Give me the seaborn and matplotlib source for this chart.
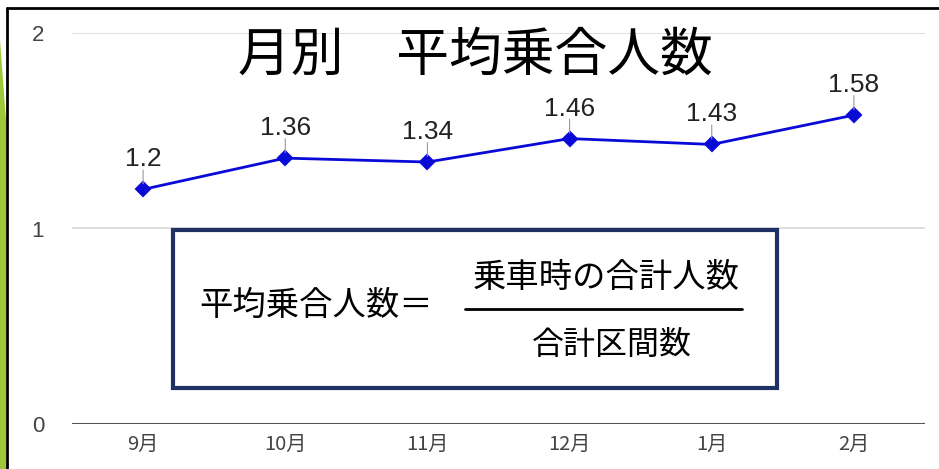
import matplotlib
matplotlib.use("Agg")
import matplotlib.pyplot as plt
from matplotlib.patches import Polygon, Rectangle
from matplotlib.lines import Line2D
import seaborn as sns
import pandas as pd

months = ["9月", "10月", "11月", "12月", "1月", "2月"]
values = [1.20, 1.36, 1.34, 1.46, 1.43, 1.58]
value_labels = ["1.2", "1.36", "1.34", "1.46", "1.43", "1.58"]
y_ticks = [0, 1, 2]
title = "月別　平均乗合人数"
formula_left = "平均乗合人数＝"
formula_num = "乗車時の合計人数"
formula_den = "合計区間数"

sns.set_style("white")
plt.rcParams['font.family'] = ['Noto Sans CJK JP', 'DejaVu Sans']

df = pd.DataFrame({"month": months, "value": values})

fig = plt.figure(figsize=(9.39, 4.69), dpi=100)
ax = fig.add_axes([72/939, 1-424/469, (925-72)/939, (424-33)/469])

sns.pointplot(data=df, x="month", y="value", order=months, color="#0a0ad8",
              markers="D", linestyles="-", ax=ax, markersize=7, linewidth=2)

ax.set_xlim(-0.5, 5.5)
ax.set_ylim(0, 2)
ax.set_yticks(y_ticks)
ax.set_yticklabels([str(t) for t in y_ticks], fontsize=16, color="#444444",
                   family=['Liberation Sans', 'DejaVu Sans'])
ax.tick_params(axis='y', length=0, pad=20)
ax.tick_params(axis='x', length=0, pad=7, labelsize=14.5, labelcolor="#444444")
ax.set_xlabel("")
ax.set_ylabel("")
for s in ax.spines.values():
    s.set_visible(False)
for t in [1, 2]:
    ax.axhline(t, color="#d9d9d9", lw=1.2, zorder=0)
ax.axhline(0, color="#555555", lw=1.5, zorder=1)

for i, (v, lab) in enumerate(zip(values, value_labels)):
    ax.annotate("", xy=(i, v), xytext=(0, 14), textcoords="offset points",
                xycoords="data", annotation_clip=False,
                arrowprops=dict(arrowstyle="-", color="#999999", lw=0.8,
                                shrinkA=0, shrinkB=4))
    ax.annotate(lab, xy=(i, v), xytext=(0, 13), textcoords="offset points",
                ha="center", va="bottom", fontsize=19, color="#222222",
                family=['Liberation Sans', 'DejaVu Sans'])

# title
fig.text(475/939, 1-55/469, title, ha="center", va="center", fontsize=38,
         color="#000000")

# formula box
fig.patches.append(Rectangle((173/939, 1-388/469), (777-173)/939, (388-230)/469,
                             transform=fig.transFigure, fill=True, facecolor="white",
                             edgecolor="#1f3064", lw=3, zorder=5))
fig.text(316/939, 1-305/469, formula_left, ha="center", va="center", fontsize=24,
         color="#000000", zorder=6)
fig.text(606/939, 1-277/469, formula_num, ha="center", va="center", fontsize=24,
         color="#000000", zorder=6)
fig.lines.append(Line2D([465/939, 742/939], [1-309/469, 1-309/469],
                        transform=fig.transFigure, color="#000000", lw=2, zorder=6))
fig.text(612/939, 1-345/469, formula_den, ha="center", va="center", fontsize=23,
         color="#000000", zorder=6)

# frame and green bar
fig.patches.append(Polygon([(0, 1-40/469), (6/939, 1-120/469), (6/939, 0), (0, 0)],
                           closed=True, transform=fig.transFigure,
                           facecolor="#9dc83b", edgecolor="none"))
fig.lines.append(Line2D([7/939, 1.0], [1-8/469, 1-8/469], transform=fig.transFigure,
                        color="black", lw=2))
fig.lines.append(Line2D([7/939, 7/939], [0, 1-8/469], transform=fig.transFigure,
                        color="black", lw=2))

fig.savefig("out.png", dpi=100)
